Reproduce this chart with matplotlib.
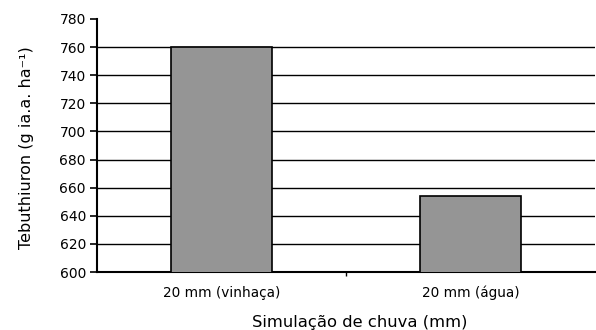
import matplotlib
matplotlib.use("Agg")
import matplotlib.pyplot as plt

categories = ["20 mm (vinhaça)", "20 mm (água)"]
values = [760, 654]
yticks = [600, 620, 640, 660, 680, 700, 720, 740, 760, 780]

plt.rcParams['font.family'] = ['DejaVu Sans']

fig = plt.figure(figsize=(5.96, 3.3), dpi=100)
ax = fig.add_axes([97/596, 1-272/330, 498/596, (272-19)/330])

x = list(range(len(categories)))
ax.bar(x, values, width=0.405, color='#959595', edgecolor='black', linewidth=1.2, zorder=3)

ax.set_ylim(600, 780)
ax.set_xlim(-0.5, 1.5)
ax.set_yticks(yticks)
ax.set_yticklabels([str(v) for v in yticks], fontsize=10)
for v in yticks[1:-1]:
    ax.axhline(v, color='black', linewidth=1.0, zorder=1)

ax.set_xticks([0.5])
ax.set_xticklabels([''])
ax.set_xticks(x, minor=True)
ax.set_xticklabels(categories, minor=True, fontsize=9.8)
ax.tick_params(axis='x', which='minor', length=0, pad=10)
ax.tick_params(axis='x', which='major', length=3, direction='out', width=1)
ax.tick_params(axis='y', length=5, width=1.2, direction='out', pad=3)

for s in ['top', 'right']:
    ax.spines[s].set_visible(False)
ax.spines['left'].set_linewidth(1.5)
ax.spines['bottom'].set_linewidth(1.5)

fig.text(360 / 596, 1 - 322 / 330, "Simulação de chuva (mm)",
         fontsize=11.8, ha='center', va='center')
ax.set_ylabel("Tebuthiuron (g ia.a. ha⁻¹)", fontsize=11.5)
ax.yaxis.set_label_coords(-0.127, 0.49)

fig.savefig("out.png", dpi=100)
